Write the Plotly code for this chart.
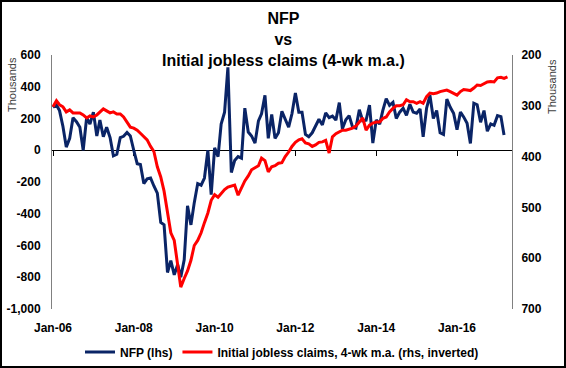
import plotly.graph_objects as go
import pandas as pd

# ---------------- data ----------------
nfp_dates = pd.date_range("2006-01-01", periods=135, freq="MS")
nfp_values = [
    270, 285, 250, 150, 20, 75, 205, 180, 145, 0, 205, 165,          # 2006
    240, 90, 190, 85, 145, 80, -35, -25, 80, 88, 112, 90,            # 2007
    0, -85, -90, -210, -180, -175, -225, -270, -455, -470, -770, -695,  # 2008
    -785, -720, -800, -690, -350, -470, -330, -210, -220, -175, 0, -280,  # 2009
    15, -40, 165, 240, 522, -140, -65, -40, -50, 265, 115, 90,       # 2010
    45, 185, 230, 346, 75, 225, 75, 110, 245, 200, 145, 230,         # 2011
    360, 240, 240, 100, 85, 110, 150, 195, 160, 235, 205, 215,       # 2012
    190, 300, 135, 192, 218, 146, 140, 255, 185, 189, 285, 45,       # 2013
    190, 165, 250, 325, 283, 302, 200, 240, 265, 220, 290, 240,      # 2014
    233, 260, 84, 265, 346, 200, 250, 110, 100, 322, 271, 233,       # 2015
    130, 240, 210, 170, 43, 296, 287, 176, 250, 120, 166, 157,       # 2016
    218, 212, 96,                                                    # 2017
]

claims_dates = pd.date_range("2006-01-01", periods=136, freq="MS")
claims_values = [
    302, 290, 298, 302, 312, 308, 314, 314, 314, 318, 324, 320,      # 2006
    322, 318, 312, 306, 310, 314, 312, 316, 316, 322, 332, 342,      # 2007
    344, 348, 354, 361, 367, 380, 390, 420, 440, 468, 508, 550,      # 2008
    565, 610, 657, 640, 625, 604, 575, 565, 550, 530, 511, 486,      # 2009
    475, 480, 472, 465, 460, 458, 456, 476, 460, 448, 438, 426,      # 2010
    422, 418, 403, 408, 430, 420, 418, 413, 412, 400, 391, 380,      # 2011
    372, 367, 365, 373, 375, 380, 377, 372, 371, 368, 393, 361,      # 2012
    355, 351, 348, 348, 346, 344, 340, 332, 324, 348, 338, 334,      # 2013
    332, 332, 325, 322, 312, 305, 300, 300, 298, 288, 292, 292,      # 2014
    295, 292, 295, 282, 275, 276, 275, 272, 270, 269, 272, 276,      # 2015
    279, 272, 268, 269, 270, 265, 259, 260, 256, 253, 252, 253,      # 2016
    245, 244, 246, 243,                                              # 2017
]

tick_dates = ["2006-01-01", "2008-01-01", "2010-01-01", "2012-01-01", "2014-01-01", "2016-01-01"]
tick_labels = ["Jan-06", "Jan-08", "Jan-10", "Jan-12", "Jan-14", "Jan-16"]
left_ticks = [600, 400, 200, 0, -200, -400, -600, -800, -1000]
left_labels = ["600", "400", "200", "0", "-200", "-400", "-600", "-800", "-1,000"]
right_ticks = [200, 300, 400, 500, 600, 700]
right_labels = ["200", "300", "400", "500", "600", "700"]

# ---------------- figure ----------------
FONT = "Liberation Sans, Arial, sans-serif"
W, H = 566, 368
ML, MR, MT, MB = 52, 54, 55, 59
PW, PH = W - ML - MR, H - MT - MB

fig = go.Figure()
fig.add_trace(go.Scatter(
    x=nfp_dates, y=nfp_values, name="NFP (lhs)", mode="lines",
    line=dict(color="#0A2466", width=3), xaxis="x", yaxis="y"))
fig.add_trace(go.Scatter(
    x=claims_dates, y=claims_values,
    name="Initial jobless claims, 4-wk m.a. (rhs, inverted)", mode="lines",
    line=dict(color="#FF0000", width=3), xaxis="x2", yaxis="y2"))

xrange = ["2005-12-23", "2017-05-12"]
tickfont = dict(family=FONT, size=12, color="black", weight="bold")

fig.update_layout(
    width=W, height=H,
    margin=dict(l=ML, r=MR, t=MT, b=MB, autoexpand=False),
    paper_bgcolor="white", plot_bgcolor="white",
    font=dict(family=FONT),
    xaxis=dict(
        type="date", range=xrange, tickvals=tick_dates, ticktext=tick_labels,
        showgrid=False, zeroline=False, showline=False, ticks="",
        tickfont=tickfont, ticklabelstandoff=10, automargin=False),
    xaxis2=dict(
        type="date", matches="x", overlaying="x", anchor="free",
        position=1000 / 1600, tickvals=tick_dates, showticklabels=False,
        ticks="outside", ticklen=5, tickcolor="black", tickwidth=1,
        showgrid=False, zeroline=False, showline=False, layer="below traces",
        automargin=False),
    yaxis=dict(
        range=[-1000, 600], tickvals=left_ticks, ticktext=left_labels,
        showgrid=False, zeroline=True, zerolinecolor="black", zerolinewidth=1,
        showline=True, linecolor="#808080", linewidth=1, ticks="",
        tickfont=tickfont, ticklabelstandoff=8, automargin=False),
    yaxis2=dict(
        range=[700, 200], tickvals=right_ticks, ticktext=right_labels,
        overlaying="y", side="right", anchor="x2",
        showgrid=False, zeroline=False,
        showline=True, linecolor="#808080", linewidth=1, ticks="",
        tickfont=tickfont, ticklabelstandoff=6, automargin=False),
    legend=dict(
        orientation="h", x=0.5, xanchor="center",
        y=-(352 - (MT + PH)) / PH, yanchor="middle",
        font=dict(family=FONT, size=12, color="black", weight="bold"),
        bgcolor="rgba(0,0,0,0)", itemwidth=30),
    showlegend=True,
)

# chart title
fig.add_annotation(
    text="NFP<br>vs<br>Initial jobless claims (4-wk m.a.)",
    xref="paper", yref="paper", x=(W / 2 - ML) / PW, y=(MT + PH - 8) / PH,
    xanchor="center", yanchor="top", showarrow=False, align="center",
    font=dict(family=FONT, size=16, color="black", weight="bold"))

# axis titles "Thousands"
for xp, yp in [((12 - ML) / PW, (MT + PH - 85) / PH), ((552 - ML) / PW, (MT + PH - 87) / PH)]:
    fig.add_annotation(
        text="Thousands", xref="paper", yref="paper", x=xp, y=yp,
        xanchor="center", yanchor="middle",
        showarrow=False, textangle=-90,
        font=dict(family=FONT, size=11, color="#404040"))

# outer frame
fig.add_shape(
    type="rect", xref="paper", yref="paper",
    x0=(1 - ML) / PW, x1=(W - 1 - ML) / PW,
    y0=(MT + PH - (H - 1)) / PH, y1=(MT + PH - 1) / PH,
    line=dict(color="black", width=2), fillcolor="rgba(0,0,0,0)", layer="above")

fig.write_html(
    "out.html",
    config={"displayModeBar": False},
    post_script="document.body.style.margin='0';document.body.style.overflow='hidden';")
